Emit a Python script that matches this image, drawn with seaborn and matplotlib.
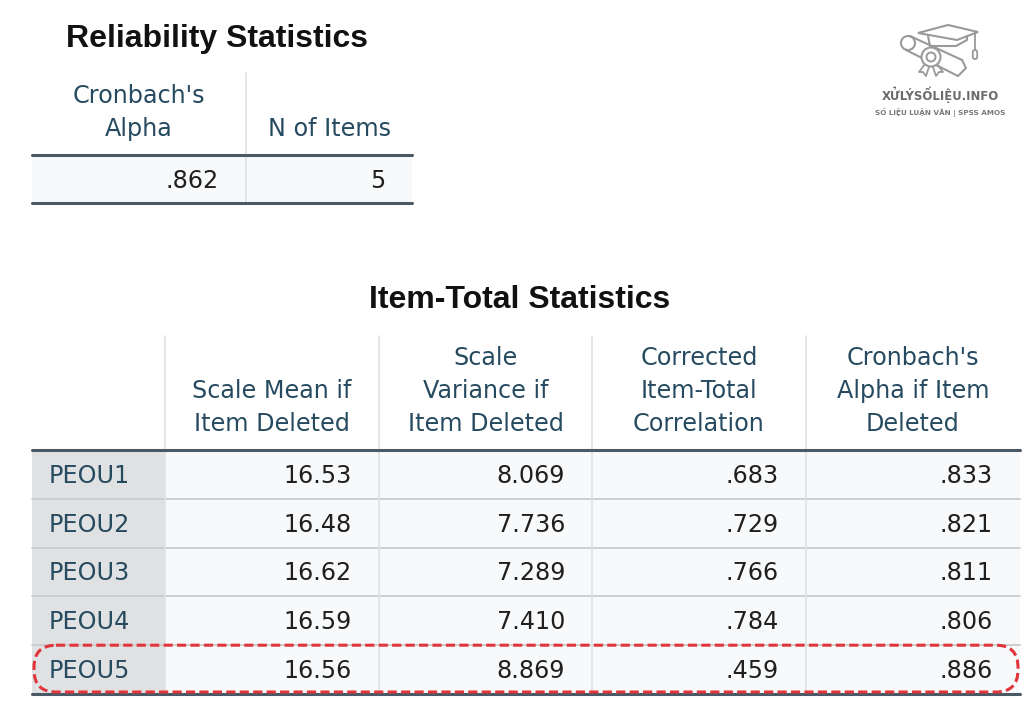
import matplotlib
matplotlib.use("Agg")
import matplotlib.pyplot as plt
import seaborn as sns
from matplotlib.patches import Rectangle, FancyBboxPatch, Polygon, Circle

# ==============================================================================
# DATA
# ==============================================================================
rel_headers = ["Cronbach's\nAlpha", "N of Items"]
rel_values = [".862", "5"]

item_headers = ["Scale Mean if\nItem Deleted", "Scale\nVariance if\nItem Deleted",
                "Corrected\nItem-Total\nCorrelation", "Cronbach's\nAlpha if Item\nDeleted"]
items = ["PEOU1", "PEOU2", "PEOU3", "PEOU4", "PEOU5"]
scale_mean = [16.53, 16.48, 16.62, 16.59, 16.56]
scale_var = [8.069, 7.736, 7.289, 7.410, 8.869]
item_total_corr = [.683, .729, .766, .784, .459]
alpha_if_deleted = [.833, .821, .811, .806, .886]
highlight_item = "PEOU5"

# ==============================================================================
# STYLE
# ==============================================================================
sns.set_theme(style="white")
plt.rcParams['font.family'] = ['DejaVu Sans']

HEAD = '#264a60'
NUM = '#1f1f1f'
CELL = '#f8f9fa'
LABEL_BG = '#e0e1e2'
THICK = '#4a5966'
THIN = '#c9cbcd'
VLINE = '#dfe1e3'
BODY_FS = 17.2
TITLE_FONT = dict(family=['Liberation Sans', 'DejaVu Sans'], fontsize=23,
                  fontweight='bold', color='#111111')


def spss(v, fmt):
    s = format(v, fmt)
    return s[1:] if s.startswith('0.') else s


fig = plt.figure(figsize=(10.24, 7.11), dpi=100)
ax = fig.add_axes([0, 0, 1, 1])
ax.set_xlim(0, 1024)
ax.set_ylim(711, 0)
ax.axis('off')

# ------------------------------------------------------------------ table 1
ax.text(217, 39, "Reliability Statistics", ha='center', va='center', **TITLE_FONT)
t1_cols = [32, 246, 412]
t1_top, t1_head, t1_bot = 73, 155, 203
ax.add_patch(Rectangle((t1_cols[0], t1_head), t1_cols[-1] - t1_cols[0], t1_bot - t1_head,
                       facecolor=CELL, edgecolor='none'))
for i, (h, v) in enumerate(zip(rel_headers, rel_values)):
    cx = (t1_cols[i] + t1_cols[i + 1]) / 2
    lines = h.split('\n')
    for k, ln in enumerate(reversed(lines)):
        ax.text(cx, 129 - 33 * k, ln, ha='center', va='center', fontsize=BODY_FS, color=HEAD)
    ax.text(t1_cols[i + 1] - 27, 181, v, ha='right', va='center', fontsize=BODY_FS, color=NUM)
ax.plot([t1_cols[1], t1_cols[1]], [t1_top, t1_bot], color=VLINE, lw=1.2)
ax.plot([t1_cols[0], t1_cols[-1]], [t1_head, t1_head], color=THICK, lw=2.2)
ax.plot([t1_cols[0], t1_cols[-1]], [t1_bot, t1_bot], color=THICK, lw=2.2)

# ------------------------------------------------------------------ table 2
ax.text(520, 300, "Item-Total Statistics", ha='center', va='center', **TITLE_FONT)
cols = [32, 165, 379, 592, 806, 1020]
top, head = 336, 450
row_h = 48.8
bottom = head + row_h * len(items)

for j, h in enumerate(item_headers):
    cx = (cols[j + 1] + cols[j + 2]) / 2
    for k, ln in enumerate(reversed(h.split('\n'))):
        ax.text(cx, 424 - 33 * k, ln, ha='center', va='center', fontsize=BODY_FS, color=HEAD)

series = [(scale_mean, '.2f'), (scale_var, '.3f'), (item_total_corr, '.3f'), (alpha_if_deleted, '.3f')]
for r, name in enumerate(items):
    y0 = head + r * row_h
    cy = y0 + row_h / 2 + 1.5
    ax.add_patch(Rectangle((cols[0], y0), cols[1] - cols[0], row_h, facecolor=LABEL_BG, edgecolor='none'))
    ax.add_patch(Rectangle((cols[1], y0), cols[-1] - cols[1], row_h, facecolor=CELL, edgecolor='none'))
    ax.text(cols[0] + 17, cy, name, ha='left', va='center', fontsize=BODY_FS, color=HEAD)
    for j, (vals, fmt) in enumerate(series):
        ax.text(cols[j + 2] - 27, cy, spss(vals[r], fmt), ha='right', va='center',
                fontsize=BODY_FS, color=NUM)
    if r > 0:
        ax.plot([cols[0], cols[-1]], [y0, y0], color=THIN, lw=1.3)

for x in cols[1:-1]:
    ax.plot([x, x], [top, bottom], color=VLINE, lw=1.2)
ax.plot([cols[0], cols[-1]], [head, head], color=THICK, lw=2.2)
ax.plot([cols[0], cols[-1]], [bottom, bottom], color=THICK, lw=2.2)

# highlight of the weak item
r = items.index(highlight_item)
hy = head + r * row_h
ax.add_patch(FancyBboxPatch((cols[0] + 2, hy), cols[-1] - cols[0] - 4, row_h - 2,
                            boxstyle="round,pad=0,rounding_size=22", facecolor='none',
                            edgecolor='#e0353b', lw=2.2, linestyle=(0, (3, 1.4)), zorder=5))

# ------------------------------------------------------------------ logo
LOGO = '#9a9a9a'
# diploma scroll
ax.plot([910, 962], [36, 60], color=LOGO, lw=1.5)
ax.plot([906, 958], [50, 76], color=LOGO, lw=1.5)
ax.add_patch(Circle((908, 43), 7, facecolor='white', edgecolor=LOGO, lw=1.5))
ax.plot([958, 966, 962], [76, 68, 60], color=LOGO, lw=1.5)
# medal
ax.add_patch(Circle((931, 57), 9.5, facecolor='white', edgecolor=LOGO, lw=1.5, zorder=3))
ax.add_patch(Circle((931, 57), 4.5, facecolor='white', edgecolor=LOGO, lw=1.4, zorder=3))
ax.plot([925, 919, 923, 926, 929], [64, 72, 72, 76, 67], color=LOGO, lw=1.3)
ax.plot([937, 943, 939, 936, 933], [64, 72, 72, 76, 67], color=LOGO, lw=1.3)
# mortarboard
ax.add_patch(Polygon([(918, 33), (948, 25), (978, 32), (957, 40)], closed=True,
                     facecolor='white', edgecolor=LOGO, lw=1.5, zorder=4))
ax.plot([928, 930, 956, 967, 967], [36, 46, 46, 40, 36], color=LOGO, lw=1.5, zorder=4)
ax.plot([975, 975], [33, 50], color=LOGO, lw=1.3)
ax.add_patch(FancyBboxPatch((972.8, 50), 4.4, 9, boxstyle="round,pad=0,rounding_size=2",
                            facecolor='white', edgecolor=LOGO, lw=1.3))
ax.text(940, 95, "XỬLÝSỐLIỆU.INFO", ha='center', va='center', fontsize=8.4,
        fontweight='bold', color='#6b6b6b')
ax.text(940, 112, "SỐ LIỆU LUẬN VĂN | SPSS AMOS", ha='center', va='center', fontsize=5.2,
        fontweight='bold', color='#7a7a7a')

fig.savefig('out.png', dpi=100, facecolor='white')
